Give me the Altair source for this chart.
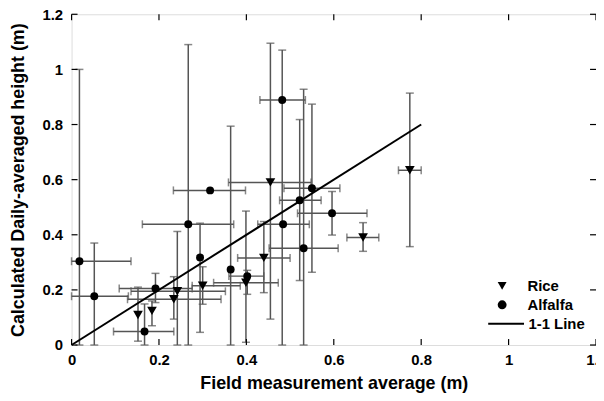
import altair as alt
import pandas as pd

# ---- data ----
alfalfa_x   = [0.018, 0.052, 0.192, 0.167, 0.267, 0.294, 0.317, 0.364, 0.402, 0.484, 0.531, 0.522, 0.550, 0.596, 0.482]
alfalfa_y   = [0.304, 0.177, 0.205, 0.049, 0.438, 0.318, 0.561, 0.274, 0.250, 0.438, 0.351, 0.525, 0.569, 0.478, 0.889]
alfalfa_xlo = [0.000, 0.000, 0.109, 0.096, 0.162, 0.294, 0.233, 0.364, 0.360, 0.426, 0.452, 0.476, 0.486, 0.517, 0.431]
alfalfa_xhi = [0.136, 0.130, 0.276, 0.234, 0.371, 0.294, 0.398, 0.364, 0.440, 0.544, 0.610, 0.571, 0.614, 0.676, 0.535]
alfalfa_ylo = [0.000, 0.000, 0.154, 0.000, 0.000, 0.046, 0.561, 0.000, 0.184, 0.438, 0.000, 0.234, 0.264, 0.399, 0.000]
alfalfa_yhi = [1.000, 0.370, 0.260, 0.149, 1.090, 0.442, 0.561, 0.794, 0.271, 0.438, 0.928, 0.818, 0.874, 0.557, 1.070]

rice_x   = [0.152, 0.184, 0.234, 0.242, 0.300, 0.399, 0.440, 0.455, 0.774, 0.667]
rice_y   = [0.109, 0.124, 0.166, 0.195, 0.215, 0.226, 0.316, 0.590, 0.634, 0.390]
rice_xlo = [0.152, 0.184, 0.128, 0.136, 0.276, 0.325, 0.380, 0.359, 0.748, 0.630]
rice_xhi = [0.152, 0.184, 0.342, 0.352, 0.386, 0.473, 0.500, 0.548, 0.800, 0.703]
rice_ylo = [0.014, 0.070, 0.094, 0.000, 0.148, 0.010, 0.190, 0.094, 0.357, 0.340]
rice_yhi = [0.210, 0.160, 0.248, 0.412, 0.284, 0.486, 0.448, 1.095, 0.914, 0.444]

line_x = [0.0, 0.8]
line_y = [0.0, 0.8]

tick_values = [0, 0.2, 0.4, 0.6, 0.8, 1.0, 1.2]

W, H = 528, 333
FONT = "Liberation Sans"
BAR = "#555555"

# ---- tables ----
pts = pd.DataFrame({
    "x": alfalfa_x + rice_x,
    "y": alfalfa_y + rice_y,
    "crop": ["Alfalfa"] * len(alfalfa_x) + ["Rice"] * len(rice_x),
})
allx = alfalfa_x + rice_x
ally = alfalfa_y + rice_y
xlo = alfalfa_xlo + rice_xlo
xhi = alfalfa_xhi + rice_xhi
ylo = alfalfa_ylo + rice_ylo
yhi = alfalfa_yhi + rice_yhi

vbars = pd.DataFrame({"x": allx, "lo": ylo, "hi": yhi})
vbars = vbars[vbars.hi > vbars.lo]
hbars = pd.DataFrame({"y": ally, "lo": xlo, "hi": xhi})
hbars = hbars[hbars.hi > hbars.lo]

vcaps = pd.DataFrame({"x": list(vbars.x) * 2, "y": list(vbars.lo) + list(vbars.hi)})
hcaps = pd.DataFrame({"y": list(hbars.y) * 2, "x": list(hbars.lo) + list(hbars.hi)})

line_df = pd.DataFrame({"x": line_x, "y": line_y, "name": ["1-1 Line"] * len(line_x)})
ticks_df = pd.DataFrame({"v": tick_values})

xs = alt.Scale(domain=[0, 1.2], nice=False, zero=False)
ys = alt.Scale(domain=[0, 1.2], nice=False, zero=False)

xaxis = alt.Axis(values=tick_values, format="~g", ticks=False, domain=False, grid=False,
                 labelFont=FONT, labelFontSize=15, labelFontWeight="bold", labelColor="black",
                 labelPadding=8, labelFlush=False,
                 title="Field measurement average (m)", titleFont=FONT, titleFontSize=18,
                 titleFontWeight="bold", titleColor="black", titlePadding=7)
yaxis = alt.Axis(values=tick_values, format="~g", ticks=False, domain=False, grid=False,
                 labelFont=FONT, labelFontSize=15, labelFontWeight="bold", labelColor="black",
                 labelPadding=9, labelFlush=False,
                 title="Calculated Daily-averaged height (m)", titleFont=FONT, titleFontSize=18,
                 titleFontWeight="bold", titleColor="black", titlePadding=15)

base_x = alt.X("x:Q", scale=xs, axis=xaxis)
base_y = alt.Y("y:Q", scale=ys, axis=yaxis)

vb = alt.Chart(vbars).mark_rule(color=BAR, strokeWidth=1.5).encode(
    x=alt.X("x:Q", scale=xs, axis=xaxis), y=alt.Y("lo:Q", scale=ys, axis=yaxis), y2="hi:Q")
hb = alt.Chart(hbars).mark_rule(color=BAR, strokeWidth=1.5).encode(
    y=alt.Y("y:Q", scale=ys, axis=yaxis), x=alt.X("lo:Q", scale=xs, axis=xaxis), x2="hi:Q")
vc = alt.Chart(vcaps).mark_tick(color=BAR, orient="horizontal", size=8, thickness=1.5).encode(
    x=base_x, y=base_y)
hc = alt.Chart(hcaps).mark_tick(color=BAR, orient="vertical", size=8, thickness=1.5).encode(
    x=base_x, y=base_y)

line = alt.Chart(line_df).mark_line(strokeWidth=2).encode(
    x=base_x, y=base_y,
    stroke=alt.Stroke("name:N", scale=alt.Scale(range=["black"]),
                      legend=alt.Legend(orient="none", legendX=418, legendY=292, title=None,
                                        labelFont=FONT, labelFontSize=15, labelFontWeight="bold",
                                        labelColor="black", symbolSize=1300, symbolStrokeWidth=2,
                                        symbolStrokeColor="black", labelOffset=3, padding=0)))

points = alt.Chart(pts).mark_point(filled=True, color="black", opacity=1).encode(
    x=base_x, y=base_y,
    shape=alt.Shape("crop:N",
                    scale=alt.Scale(domain=["Rice", "Alfalfa"], range=["triangle-down", "circle"]),
                    legend=alt.Legend(orient="none", legendX=426, legendY=266, title=None,
                                      labelFont=FONT, labelFontSize=15, labelFontWeight="bold",
                                      labelColor="black", symbolFillColor="black",
                                      symbolStrokeColor="black", symbolSize=80, labelOffset=18,
                                      rowPadding=3, padding=0)),
    size=alt.condition(alt.datum.crop == "Rice", alt.value(95), alt.value(64)),
)

# inward frame ticks
tb = alt.Chart(ticks_df).mark_rule(color="black", strokeWidth=1.2).encode(
    x=alt.X("v:Q", scale=xs, axis=xaxis), y=alt.value(H), y2=alt.value(H - 6))
tt = alt.Chart(ticks_df).mark_rule(color="black", strokeWidth=1.2).encode(
    x=alt.X("v:Q", scale=xs, axis=xaxis), y=alt.value(0), y2=alt.value(6))
tl = alt.Chart(ticks_df).mark_rule(color="black", strokeWidth=1.2).encode(
    y=alt.Y("v:Q", scale=ys, axis=yaxis), x=alt.value(0), x2=alt.value(6))
tr = alt.Chart(ticks_df).mark_rule(color="black", strokeWidth=1.2).encode(
    y=alt.Y("v:Q", scale=ys, axis=yaxis), x=alt.value(W), x2=alt.value(W - 6))

chart = alt.layer(vb, hb, vc, hc, line, points, tb, tt, tl, tr).properties(
    width=W, height=H,
    autosize=alt.AutoSizeParams(type="none"),
    padding={"left": 64, "top": 5, "right": 0, "bottom": 50},
).configure_view(stroke="black", strokeWidth=1.5).configure(background="white")

chart.save("out.html", embed_options={"renderer": "svg", "actions": False})
